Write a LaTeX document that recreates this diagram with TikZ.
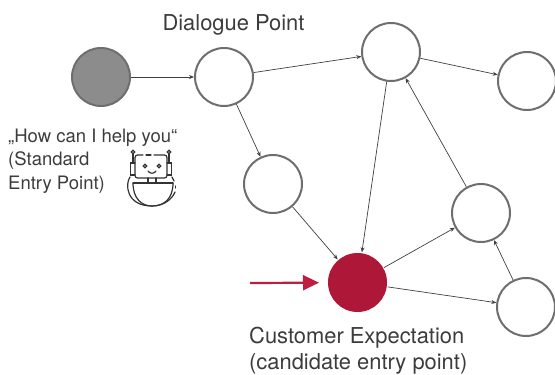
\documentclass[tikz,border=0pt]{standalone}
\usepackage{fontspec}
\setmainfont{TeX Gyre Heros}
\usepackage{xcolor}
\usetikzlibrary{arrows.meta}
\definecolor{ringgray}{HTML}{6E6E6E}
\definecolor{startgray}{HTML}{8C8C8C}
\definecolor{expectred}{HTML}{AE1737}
\definecolor{arrowred}{HTML}{BE1E40}
\definecolor{textgray}{HTML}{3C3C3C}
\begin{document}
\begin{tikzpicture}[x=1pt,y=-1pt,
      point/.style={circle, draw=ringgray, line width=2pt, fill=white, minimum size=58pt, inner sep=0pt},
      startpoint/.style={point, fill=startgray},
      expectpoint/.style={point, draw=none, fill=expectred, minimum size=59pt},
      edge/.style={-{Stealth[length=5pt,width=4pt]}, line width=.7pt, draw=black!75},
      caption/.style={font=\fontsize{21.9}{24}\selectfont, text=textgray, inner sep=0pt},
      small/.style={font=\fontsize{18.5}{23.5}\selectfont, text=textgray, inner sep=0pt, align=left},
      robot/.style={line width=1.2pt, draw=black!80, line cap=round}
      ]
      \useasboundingbox (0,0) rectangle (555,375);
      \node[startpoint] (S) at (101,77) {};
      \node[point] (D) at (224,77) {};
      \node[point] (T) at (391,52) {};
      \node[point] (R) at (527,81) {};
      \node[point] (L) at (273,184) {};
      \node[expectpoint] (E) at (357.5,282.5) {};
      \node[point] (M) at (481,213) {};
      \node[point] (B) at (526,307) {};
      \draw[edge] (S) -- (D);
      \draw[edge] (D) -- (T);
      \draw[edge] (D) -- (L);
      \draw[edge] (T) -- (R);
      \draw[edge] (T) -- (E);
      \draw[edge] (L) -- (E);
      \draw[edge] (E) -- (M);
      \draw[edge] (E) -- (B);
      \draw[edge] (M) -- (T);
      \draw[edge] (B) -- (M);
      \coordinate (F) at (250,283);
      \draw[-{Triangle[length=16pt,width=15pt]}, line width=2.2pt, draw=arrowred, shorten >=8pt] (F) -- (E);
      \node[caption, anchor=base] (dlabel) at (233.5,30) {Dialogue Point};
      \node[caption, anchor=base west] (elabel) at (249,343) {Customer Expectation};
      \node[caption, anchor=base west] (clabel) at (249,369.5) {(candidate entry point)};
      \node[small, anchor=base west] (slabel1) at (8,142) {„How can I help you“};
      \node[small, anchor=base west] (slabel2) at (8,165) {(Standard};
      \node[small, anchor=base west] (slabel3) at (8,189) {Entry Point)};
      % robot
      \draw[robot, rounded corners=2.5pt] (143,155) -- (135,155) -- (135,178) -- (167,178) -- (167,155) -- (154,155);
      \draw[robot] (146,155) -- (151,155);
      \draw[robot] (135,163) -- (130.5,163) -- (130.5,175) -- (135,175);
      \draw[robot] (167,163) -- (171.5,163) -- (171.5,175) -- (167,175);
      \draw[robot] (133,152) circle (1.8pt) (169,152) circle (1.8pt);
      \draw[robot] (133,154) -- (133,163) (169,154) -- (169,163);
      \draw[robot] (145,166) circle (1.8pt) (159,166) circle (1.8pt);
      \draw[robot] (148,171) .. controls (150,174) and (154,174) .. (156,171);
      \draw[robot] (148,178) -- (148,183) (156,178) -- (156,183);
      \draw[robot] (133,183) -- (173,183);
      \draw[robot] (133,183) .. controls (133,199) and (142,206) .. (152,206) .. controls (164,206) and (173,199) .. (173,183);
      \draw[robot] (130,177) .. controls (125,184) and (126,206) .. (152,206) .. controls (166,206) and (173,197) .. (175,192);
      \draw[robot] (175.5,186) -- (175.5,188);
      \draw[robot] (172,177) -- (174,181);
\end{tikzpicture}
\end{document}
